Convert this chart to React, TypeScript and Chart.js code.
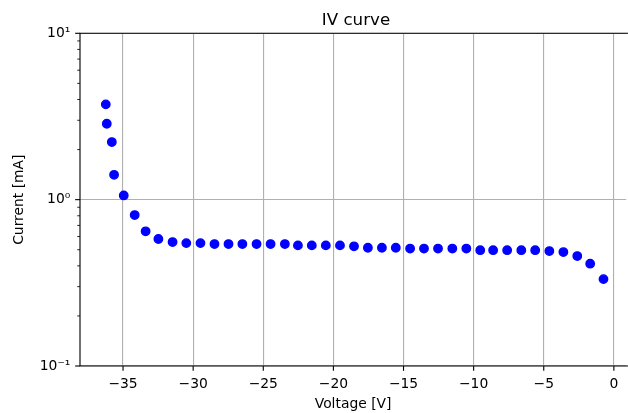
import React, { useEffect, useRef } from "react";
import { Chart, registerables } from "chart.js";

Chart.register(...registerables);

const TITLE = "IV curve";
const X_LABEL = "Voltage [V]";
const Y_LABEL = "Current [mA]";

const VOLTAGE = [
  -36.23, -36.16, -35.8, -35.64, -34.95, -34.17, -33.39, -32.48, -31.47, -30.49,
  -29.48, -28.48, -27.48, -26.49, -25.48, -24.48, -23.46, -22.53, -21.54, -20.54,
  -19.53, -18.53, -17.54, -16.54, -15.55, -14.53, -13.54, -12.54, -11.52, -10.52,
  -9.53, -8.61, -7.61, -6.6, -5.61, -4.6, -3.6, -2.61, -1.69, -0.74,
];
const CURRENT = [
  3.74, 2.86, 2.22, 1.41, 1.06, 0.808, 0.645, 0.58, 0.556, 0.548,
  0.548, 0.541, 0.541, 0.541, 0.541, 0.541, 0.541, 0.531, 0.531, 0.531,
  0.531, 0.524, 0.514, 0.514, 0.514, 0.508, 0.508, 0.508, 0.508, 0.508,
  0.497, 0.497, 0.497, 0.497, 0.497, 0.491, 0.484, 0.458, 0.412, 0.333,
];

const X_TICKS = [-35, -30, -25, -20, -15, -10, -5, 0];
const Y_MAJOR = [0.1, 1, 10];
const Y_LABELS = ["10\u207B\u00B9", "10\u2070", "10\u00B9"];
const Y_MINOR = [
  0.2, 0.3, 0.4, 0.5, 0.6, 0.7, 0.8, 0.9,
  2, 3, 4, 5, 6, 7, 8, 9,
];

const FONT = "'DejaVu Sans', sans-serif";
const PX = 100 / 72;

function isMajor(v: number) {
  return Y_MAJOR.some((m) => Math.abs(m - v) < 1e-9);
}

const framePlugin = {
  id: "mplFrame",
  afterDraw(chart: any) {
    const { ctx, chartArea } = chart;
    const { left, top, right, bottom } = chartArea;
    const xs = chart.scales.x;
    const ys = chart.scales.y;
    ctx.save();
    ctx.strokeStyle = "#000";
    ctx.lineWidth = 0.8 * PX;
    for (const v of X_TICKS) {
      const px = xs.getPixelForValue(v);
      ctx.beginPath();
      ctx.moveTo(px, bottom);
      ctx.lineTo(px, bottom + 3.5 * PX);
      ctx.stroke();
    }
    for (const v of [...Y_MAJOR, ...Y_MINOR]) {
      const py = ys.getPixelForValue(v);
      const major = isMajor(v);
      ctx.lineWidth = (major ? 0.8 : 0.6) * PX;
      ctx.beginPath();
      ctx.moveTo(left, py);
      ctx.lineTo(left - (major ? 3.5 : 2) * PX, py);
      ctx.stroke();
    }
    // spines: left, top, bottom (right spine lies just outside the picture)
    ctx.lineWidth = 0.8 * PX;
    ctx.beginPath();
    ctx.moveTo(right + 2, top);
    ctx.lineTo(left, top);
    ctx.lineTo(left, bottom);
    ctx.lineTo(right + 2, bottom);
    ctx.stroke();
    // title, centred over the axes
    ctx.fillStyle = "#000";
    ctx.font = `${12 * PX}px ${FONT}`;
    ctx.textAlign = "center";
    ctx.textBaseline = "alphabetic";
    ctx.fillText(TITLE, 356, 25);
    ctx.restore();
  },
};

export default function App() {
  const ref = useRef<HTMLCanvasElement | null>(null);

  useEffect(() => {
    const canvas = ref.current;
    if (!canvas) return;
    const points = VOLTAGE.map((v, i) => ({ x: v, y: CURRENT[i] }));
    const chart = new Chart(canvas, {
      type: "scatter",
      data: {
        datasets: [
          {
            data: points,
            backgroundColor: "#0000ff",
            borderColor: "#0000ff",
            pointRadius: 4.2,
            pointBorderWidth: 1.4,
            pointHoverRadius: 4.2,
          },
        ],
      },
      plugins: [framePlugin],
      options: {
        animation: false,
        responsive: false,
        devicePixelRatio: 1,
        layout: { autoPadding: false, padding: { top: 33.3, right: 0, left: 0, bottom: 0 } },
        plugins: {
          legend: { display: false },
          tooltip: { enabled: false },
          title: { display: false },
        },
        scales: {
          x: {
            type: "linear",
            min: -38.07,
            max: 0.88,
            afterBuildTicks: (scale: any) => {
              scale.ticks = X_TICKS.map((v) => ({ value: v }));
            },
            afterFit: (scale: any) => {
              scale.height = 47;
            },
            border: { display: false },
            grid: {
              color: "#b0b0b0",
              lineWidth: 0.8 * PX,
              drawTicks: false,
            },
            ticks: {
              autoSkip: false,
              maxRotation: 0,
              padding: 7 * PX,
              color: "#000",
              font: { family: FONT, size: 10 * PX },
              callback: (v: any) => (Number(v) < 0 ? "\u2212" + Math.abs(Number(v)) : String(v)),
            },
            title: {
              display: true,
              text: X_LABEL,
              color: "#000",
              font: { family: FONT, size: 10 * PX, lineHeight: 1.2 },
              padding: { top: 0, bottom: 0.7 },
            },
          },
          y: {
            type: "logarithmic",
            min: 0.1,
            max: 10,
            afterBuildTicks: (scale: any) => {
              const all = [...Y_MAJOR, ...Y_MINOR].sort((a, b) => a - b);
              scale.ticks = all.map((v) => ({ value: v, major: isMajor(v) }));
            },
            afterFit: (scale: any) => {
              scale.width = 80;
            },
            border: { display: false },
            grid: {
              color: (c: any) => (c.tick && isMajor(c.tick.value) ? "#b0b0b0" : "rgba(0,0,0,0)"),
              lineWidth: 0.8 * PX,
              drawTicks: false,
            },
            ticks: {
              autoSkip: false,
              padding: 7 * PX,
              color: "#000",
              font: { family: FONT, size: 10 * PX },
              callback: (v: any) => {
                const i = Y_MAJOR.findIndex((m) => Math.abs(m - Number(v)) < 1e-9);
                return i >= 0 ? Y_LABELS[i] : "";
              },
            },
            title: {
              display: true,
              text: Y_LABEL,
              color: "#000",
              font: { family: FONT, size: 10 * PX, lineHeight: 1.2 },
              padding: { top: 10.7, bottom: 0 },
            },
          },
        },
      },
    } as any);
    return () => chart.destroy();
  }, []);

  return (
    <div
      style={{
        position: "absolute",
        left: 0,
        top: 0,
        width: 628,
        height: 413,
        overflow: "hidden",
        background: "#fff",
      }}
    >
      <canvas ref={ref} width={628} height={413} style={{ display: "block", width: 628, height: 413 }} />
    </div>
  );
}
